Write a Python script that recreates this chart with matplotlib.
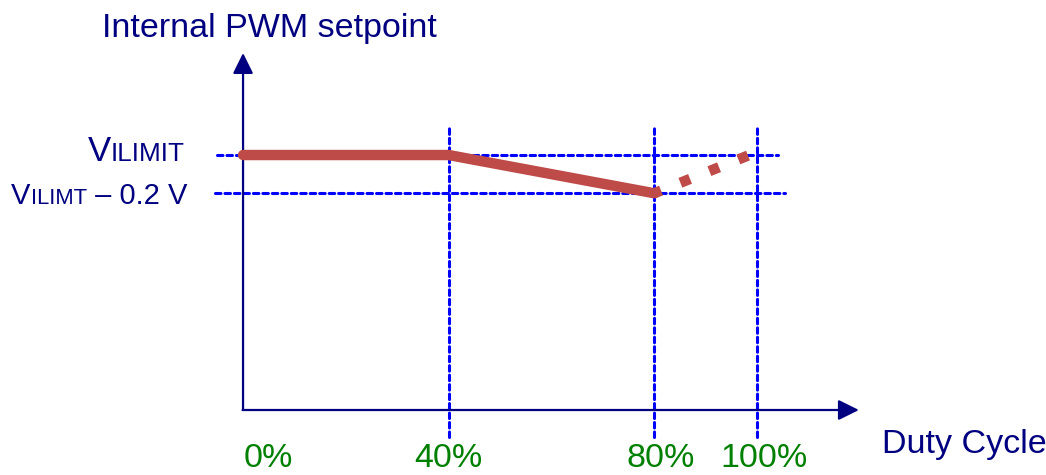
import matplotlib
matplotlib.use("Agg")
import matplotlib.pyplot as plt

# duty cycle (%) vs internal PWM setpoint (VILIMIT = 1.0, normalised)
duty_solid = [0, 40, 80]
setp_solid = [1.0, 1.0, 0.85]
duty_dot = [80, 98.5]
setp_dot = [0.85, 1.0]
duty_ticks = [0, 40, 80, 100]
tick_labels = ["0%", "40%", "80%", "100%"]
vilimit = 1.0
vilimit_low = 0.85

navy = "#000080"
green = "#008000"
red = "#BE4B48"
blue = "#0000FF"
font = "Liberation Sans"

fig = plt.figure(figsize=(10.46, 4.75), dpi=100)
ax = fig.add_axes([0, 0, 1, 1])
ax.set_xlim(-47.28, 156.2)
ax.set_ylim(-0.2549, 1.608)
ax.axis("off")

# guide lines
grid = dict(color=blue, lw=2.2, ls=(0, (1.8, 1.3)), dash_capstyle="round", zorder=1)
ax.plot([-5.1, 104], [vilimit, vilimit], **grid)
ax.plot([-5.4, 105.5], [vilimit_low, vilimit_low], **grid)
for d in duty_ticks[1:]:
    ax.plot([d, d], [-0.106, 1.106], **grid)

# axes with arrows
arr = dict(arrowstyle="-|>,head_length=1.25,head_width=0.62", color=navy,
           lw=1.6, shrinkA=0, shrinkB=0, mutation_scale=10)
ax.annotate("", xy=(0, 1.40), xytext=(0, 0), arrowprops=arr, zorder=3)
ax.annotate("", xy=(119.8, 0), xytext=(-0.1, 0), arrowprops=arr, zorder=3)

# setpoint curve
ax.plot(duty_solid, setp_solid, color=red, lw=7.5, solid_capstyle="round",
        solid_joinstyle="round", zorder=4)
ax.plot(duty_dot, setp_dot, color=red, lw=7.5, ls=(0.3, (1.0, 2.0)),
        dash_capstyle="butt", zorder=4)

# texts
ax.text(-27.4, 1.463, "Internal PWM setpoint", color=navy, fontsize=24.5,
        family=font, ha="left", va="baseline")
ax.text(124.3, -0.169, "Duty Cycle", color=navy, fontsize=24.5,
        family=font, ha="left", va="baseline")
label_x = [4.96, 40.0, 81.2, 101.3]
for x, lab in zip(label_x, tick_labels):
    ax.text(x, -0.225, lab, color=green, fontsize=24.5, family=font,
            ha="center", va="baseline")


def small_caps(parts, x_right, y):
    # draw pieces left to right so the right edge sits at x_right
    fig.canvas.draw()
    r = fig.canvas.get_renderer()
    texts = []
    for s, size in parts:
        t = ax.text(0, y, s, color=navy, fontsize=size, family=font,
                    ha="left", va="baseline")
        texts.append(t)
    widths = [t.get_window_extent(renderer=r).width for t in texts]
    x0 = ax.transData.transform((x_right, y))[0] - sum(widths)
    inv = ax.transData.inverted()
    xpix = 0
    for t, w in zip(texts, widths):
        t.set_x(inv.transform((x0 + xpix, 0))[0])
        xpix += w


small_caps([("V", 25), ("ILIMIT", 18.8)], -11.28, 0.978)
small_caps([("V", 21), ("ILIMT", 15.8), (" \u2013 0.2 V", 21)], -10.9, 0.808)

fig.savefig("out.png", dpi=100)
